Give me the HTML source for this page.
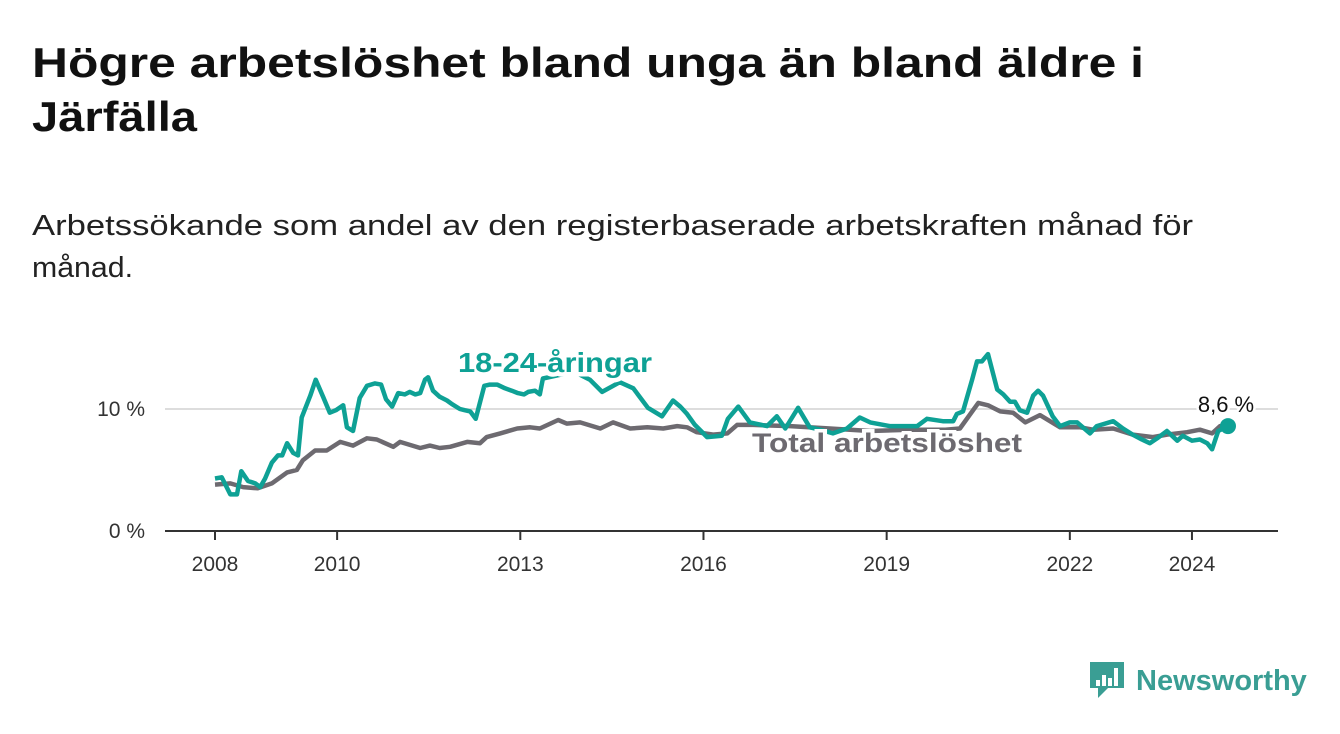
<!DOCTYPE html>
<html><head><meta charset="utf-8"><style>
body{margin:0;background:#fff;width:1340px;height:734px;overflow:hidden;font-family:"Liberation Sans",sans-serif}
</style></head><body>
<svg width="1340" height="734" viewBox="0 0 1340 734" style="position:absolute;left:0;top:0">
<text x="32" y="77" font-size="42" font-weight="bold" fill="#111" textLength="1112" lengthAdjust="spacingAndGlyphs">Högre arbetslöshet bland unga än bland äldre i</text>
<text x="32" y="131" font-size="42" font-weight="bold" fill="#111" textLength="165" lengthAdjust="spacingAndGlyphs">Järfälla</text>
<text x="32" y="235" font-size="29" fill="#222" textLength="1161" lengthAdjust="spacingAndGlyphs">Arbetssökande som andel av den registerbaserade arbetskraften månad för</text>
<text x="32" y="277" font-size="29" fill="#222" textLength="101" lengthAdjust="spacingAndGlyphs">månad.</text>
<g id="plot"></g>
<g>
<path d="M1090 662 h34 v26 h-16 l-10 10 v-10 h-8 z" fill="#3a9e94"/>
<rect x="1096" y="680" width="4" height="6" fill="#fff"/><rect x="1102" y="675" width="4" height="11" fill="#fff"/><rect x="1108" y="678" width="4" height="8" fill="#fff"/><rect x="1114" y="668" width="4" height="18" fill="#fff"/>
<text x="1136" y="690" font-size="29" font-weight="bold" fill="#3a9e94">Newsworthy</text>
</g>
</svg>
<script>
const youthDates=[2008.00,2008.11,2008.25,2008.36,2008.43,2008.54,2008.66,2008.74,2008.82,2008.93,2009.03,2009.10,2009.18,2009.28,2009.36,2009.42,2009.56,2009.65,2009.77,2009.88,2009.98,2010.10,2010.16,2010.26,2010.37,2010.49,2010.62,2010.72,2010.80,2010.90,2011.00,2011.11,2011.19,2011.28,2011.36,2011.44,2011.49,2011.57,2011.68,2011.80,2011.88,2012.01,2012.09,2012.18,2012.27,2012.41,2012.50,2012.62,2012.75,2012.86,2012.96,2013.06,2013.13,2013.24,2013.32,2013.37,2013.65,2013.90,2014.14,2014.34,2014.63,2014.85,2015.09,2015.32,2015.50,2015.62,2015.73,2015.86,2016.06,2016.30,2016.40,2016.57,2016.76,2017.04,2017.20,2017.34,2017.55,2017.74,2017.91,2018.12,2018.35,2018.56,2018.73,2019.05,2019.50,2019.66,2019.92,2020.09,2020.15,2020.25,2020.40,2020.48,2020.56,2020.66,2020.81,2020.91,2021.02,2021.10,2021.18,2021.30,2021.40,2021.48,2021.56,2021.72,2021.84,2022.00,2022.12,2022.33,2022.44,2022.71,2022.87,2023.03,2023.18,2023.31,2023.43,2023.59,2023.76,2023.85,2024.00,2024.13,2024.25,2024.33,2024.43,2024.59];
const youthValues=[4.3,4.4,3.0,3.0,4.9,4.1,3.9,3.6,4.3,5.6,6.2,6.2,7.2,6.4,6.2,9.3,11.1,12.4,11.0,9.7,9.9,10.3,8.5,8.2,10.9,11.9,12.1,12.0,10.8,10.2,11.3,11.2,11.4,11.2,11.3,12.4,12.6,11.5,11.0,10.7,10.4,10.0,9.9,9.8,9.2,11.9,12.0,12.0,11.7,11.5,11.3,11.2,11.4,11.5,11.2,12.5,12.8,13.0,12.4,11.4,12.2,11.7,10.1,9.4,10.7,10.2,9.6,8.7,7.7,7.8,9.2,10.2,8.9,8.6,9.4,8.4,10.1,8.5,8.3,8.0,8.4,9.3,8.9,8.6,8.6,9.2,9.0,9.0,9.6,9.8,12.4,13.9,13.9,14.5,11.6,11.2,10.6,10.6,9.9,9.7,11.1,11.5,11.1,9.4,8.6,8.9,8.9,8.0,8.6,9.0,8.4,7.9,7.5,7.2,7.6,8.2,7.4,7.8,7.4,7.5,7.2,6.7,8.2,8.6];
const totalDates=[2008.00,2008.25,2008.46,2008.70,2008.93,2009.18,2009.34,2009.44,2009.64,2009.83,2010.05,2010.26,2010.49,2010.65,2010.92,2011.03,2011.36,2011.52,2011.68,2011.85,2012.13,2012.34,2012.45,2012.67,2012.95,2013.16,2013.32,2013.62,2013.76,2013.98,2014.31,2014.52,2014.80,2015.08,2015.34,2015.57,2015.73,2015.89,2016.16,2016.39,2016.55,2016.81,2017.42,2018.07,2018.73,2019.38,2019.96,2020.20,2020.50,2020.66,2020.86,2021.07,2021.27,2021.51,2021.84,2022.17,2022.38,2022.71,2023.03,2023.36,2023.59,2023.92,2024.13,2024.33,2024.46,2024.59];
const totalValues=[3.8,3.9,3.6,3.5,3.9,4.8,5.0,5.8,6.6,6.6,7.3,7.0,7.6,7.5,6.9,7.3,6.8,7.0,6.8,6.9,7.3,7.2,7.7,8.0,8.4,8.5,8.4,9.1,8.8,8.9,8.4,8.9,8.4,8.5,8.4,8.6,8.5,8.1,7.9,8.0,8.7,8.7,8.6,8.4,8.2,8.3,8.3,8.4,10.5,10.3,9.8,9.7,8.9,9.5,8.5,8.5,8.3,8.4,7.9,7.7,7.9,8.1,8.3,8.0,8.6,8.6];
const xTicks=[2008,2010,2013,2016,2019,2022,2024];
const yTicks=[0,10];
const yTickLabels=["0 %","10 %"];
const lastLabel="8,6 %";

const NS="http://www.w3.org/2000/svg";
const X=d=>215+(d-2008)*61.06;
const Y=v=>531-v*12.2;
const plot=document.getElementById('plot');
function el(t,a,p){const e=document.createElementNS(NS,t);for(const k in a)e.setAttribute(k,a[k]);(p||plot).appendChild(e);return e;}
yTicks.forEach((v,i)=>{
  if(v>0){const g=el('line',{x1:165,x2:1278,y1:Y(v),y2:Y(v),stroke:'#ddd','stroke-width':2});
  
  }
  const t=el('text',{x:145,y:Y(v)+7,'font-size':21,fill:'#333','text-anchor':'end'});
  
  
  t.textContent=yTickLabels[i];
});
const ax=el('line',{x1:165,x2:1278,y1:531,y2:531,stroke:'#333','stroke-width':2});


xTicks.forEach(yr=>{
  const tk=el('line',{x1:X(yr),x2:X(yr),y1:531,y2:540,stroke:'#333','stroke-width':2});
  
  
  const t=el('text',{x:X(yr),y:571,'font-size':21,fill:'#333','text-anchor':'middle'});
  
  
  t.textContent=yr;
});
function path(ds,vs){return ds.map((d,i)=>(i?'L':'M')+X(d).toFixed(1)+' '+Y(vs[i]).toFixed(1)).join(' ');}
const tl=el('path',{d:path(totalDates,totalValues),fill:'none',stroke:'#6d6a70','stroke-width':4.5,'stroke-linejoin':'round'});


const yl=el('path',{d:path(youthDates,youthValues),fill:'none',stroke:'#0ea195','stroke-width':4.5,'stroke-linejoin':'round'});


const n=youthDates.length-1;
const dot=el('circle',{cx:X(youthDates[n]),cy:Y(youthValues[n]),r:8,fill:'#0ea195'});


const ll=el('text',{x:X(youthDates[n])-2,y:Y(youthValues[n])-14,'font-size':22,fill:'#111','text-anchor':'middle',stroke:'#fff','stroke-width':5,'paint-order':'stroke'});


ll.textContent=lastLabel;
const l1=el('text',{x:458,y:372,'font-size':28,'font-weight':'bold',fill:'#0ea195',stroke:'#fff','stroke-width':9,'paint-order':'stroke',textLength:194,lengthAdjust:'spacingAndGlyphs'});


l1.textContent='18-24-åringar';
const l2=el('text',{x:752,y:452,'font-size':27,'font-weight':'bold',fill:'#6d6a70',stroke:'#fff','stroke-width':7,'paint-order':'stroke',textLength:270,lengthAdjust:'spacingAndGlyphs'});


l2.textContent='Total arbetslöshet';
</script>
</body></html>
